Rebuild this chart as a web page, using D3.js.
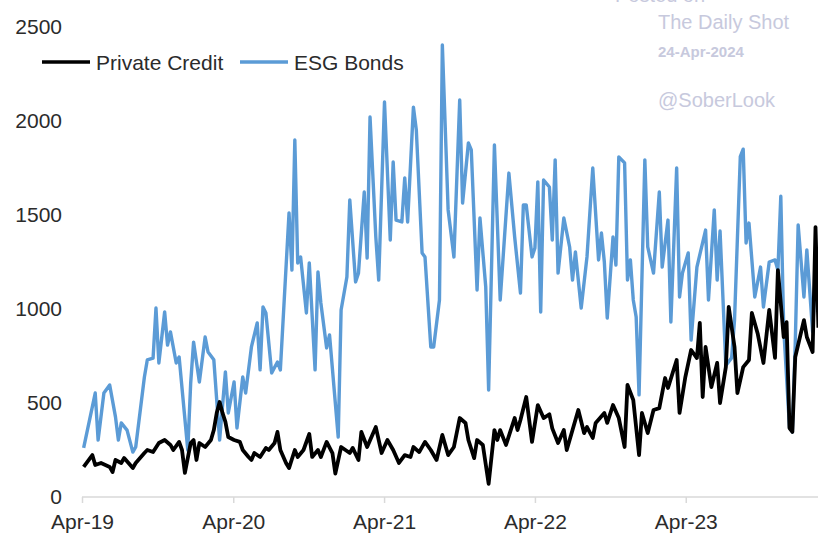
<!DOCTYPE html>
<html>
<head>
<meta charset="utf-8">
<style>
body { margin: 0; background: #fff; }
svg text { font-family: "Liberation Sans", Arial, sans-serif; }
.tick-label { fill: #2b2b2b; font-size: 21px; }
.legend text { fill: #2b2b2b; font-size: 21px; }
.mark { fill: #c7c9dd; }
</style>
</head>
<body>
<svg width="818" height="533"></svg>
<script src="https://d3js.org/d3.v7.min.js"></script>
<script>

// weekly observations, week 0 = first week of April 2019
var esgWeeks = [0,4,5,7,9,11,12,13,15,17,18,21,22,24,25,26,28,29,30,32,33,36,37,38,40,42,43,45,47,49,50,52,53,55,56,58,60,61,62,63,65,67,68,71,72,73,74,75,77,78,80,81,82,84,85,88,89,91,92,94,95,97,98,99,101,102,104,106,107,108,110,111,112,114,115,117,118,120,121,123,124,126,128,130,131,133,134,136,137,139,140,142,144,147,149,151,152,153,155,156,157,158,159,161,162,163,164,166,168,169,170,172,174,176,178,179,180,181,183,184,185,187,188,189,190,191,192,194,195,197,199,200,202,203,205,206,207,209,210,212,215,216,218,219,220,222,224,225,227,228,229,230,232,234,235,237,239,240,241,242,244,245,246,247,249,250,252,253,254];
var esgValues = [261,553,303,553,596,426,303,394,356,239,266,638,729,739,1005,713,984,808,878,713,745,250,606,824,612,851,771,730,303,665,447,612,367,638,553,798,926,676,1011,979,660,718,676,1511,1207,1899,1245,1277,979,1245,676,1197,1032,793,862,319,995,1170,1580,1144,1190,1622,1271,2021,1383,1154,2101,1367,1782,1473,1463,1697,1463,2074,1952,1298,1277,798,798,1048,2404,1527,1277,2112,1564,1883,1846,1101,1484,1117,569,1872,1048,1723,1383,1085,1553,1553,1277,1324,1676,984,1686,1649,1367,1793,1191,1484,1330,1154,1303,1005,1277,1750,1261,1404,1250,952,1383,1234,1809,1777,1154,1261,1048,957,543,1793,1330,1191,1622,1223,1473,931,1750,1064,1191,1298,835,1223,1420,1048,1527,1154,1415,700,740,941,1810,1850,1351,1457,1064,1223,1011,1250,1261,1207,1600,900,372,346,819,1447,1064,1314,880,1207,1277];

var pcWeeks = [0,3,4,6,9,10,11,13,14,17,18,21,22,24,26,28,30,31,33,34,35,37,38,39,40,42,44,45,46,47,48,49,50,52,54,55,57,58,59,61,63,64,66,67,68,70,71,73,74,76,78,79,81,82,84,86,87,89,92,93,95,96,98,101,103,105,107,109,111,113,114,116,118,120,122,124,126,128,130,132,133,135,136,138,140,142,143,144,146,149,150,151,153,155,157,159,161,162,164,166,167,169,171,173,174,176,177,180,181,183,185,187,188,190,192,193,195,197,199,201,202,205,206,208,210,212,213,214,215,217,219,220,222,223,225,226,228,230,231,233,235,237,239,240,242,243,244,245,246,249,250,252,253,254];
var pcValues = [160,223,170,181,160,133,197,181,207,154,181,234,250,239,287,303,277,250,293,250,128,287,303,197,287,266,303,356,447,505,447,400,319,303,293,250,213,197,234,213,261,250,287,346,250,180,154,250,213,250,335,213,250,213,293,234,125,266,234,261,197,346,266,372,234,303,250,181,223,213,266,239,293,250,197,330,223,266,420,394,303,207,303,277,70,356,303,356,277,420,356,410,532,293,489,420,440,365,287,356,250,356,463,340,372,314,394,447,394,489,420,266,596,516,223,447,340,463,473,633,580,729,447,638,782,739,926,532,798,585,713,500,691,1011,798,553,691,729,979,870,713,995,740,1207,851,930,367,346,745,941,851,771,1436,900];

var yTicks = [0, 500, 1000, 1500, 2000, 2500];
var xTickYears = [2019, 2020, 2021, 2022, 2023];

var seriesNames = ["Private Credit", "ESG Bonds"];
var seriesColors = ["#000000", "#5b9bd6"];

var svg = d3.select("svg");
var start = new Date(2019, 3, 5);

var x = d3.scaleTime()
    .domain([new Date(2019, 3, 1), new Date(2024, 3, 1)])
    .range([82, 837]);

var y = d3.scaleLinear()
    .domain([0, 2500])
    .range([497, 27]);

function toPoints(weeks, values) {
  return weeks.map(function(w, i) {
    return { date: d3.timeDay.offset(start, w * 7), value: values[i] };
  });
}

var esg = toPoints(esgWeeks, esgValues);
var pc = toPoints(pcWeeks, pcValues);

// y labels (no axis line)
svg.append("g").selectAll("text")
  .data(yTicks)
  .enter().append("text")
    .attr("class", "tick-label")
    .attr("x", 62)
    .attr("y", function(d) { return y(d); })
    .attr("dy", "0.35em")
    .attr("text-anchor", "end")
    .text(function(d) { return d; });

// x axis
var xTicks = xTickYears.map(function(yr) { return new Date(yr, 3, 1); });
var xAxis = svg.append("g").attr("transform", "translate(0,497)")
  .call(d3.axisBottom(x).tickValues(xTicks).tickSize(6).tickFormat(d3.timeFormat("%b-%y")));
xAxis.select(".domain").attr("d", "M82,0H818").attr("stroke", "#d9d9d9").attr("stroke-width", 1.5);
xAxis.selectAll(".tick line").attr("stroke", "#d9d9d9").attr("stroke-width", 1.5);
xAxis.selectAll(".tick text")
  .attr("class", "tick-label")
  .attr("y", 32)
  .attr("dy", 0)
  .style("font-family", "Liberation Sans, Arial, sans-serif")
  .style("font-size", "21px")
  .attr("fill", "#2b2b2b");

var line = d3.line()
    .x(function(d) { return x(d.date); })
    .y(function(d) { return y(d.value); });

svg.append("clipPath").attr("id", "clip")
  .append("rect").attr("x", 0).attr("y", 0).attr("width", 818).attr("height", 533);

var plot = svg.append("g").attr("clip-path", "url(#clip)");

plot.append("path")
    .datum(esg)
    .attr("fill", "none")
    .attr("stroke", seriesColors[1])
    .attr("stroke-width", 3.4)
    .attr("stroke-linejoin", "round")
    .attr("d", line);

plot.append("path")
    .datum(pc)
    .attr("fill", "none")
    .attr("stroke", seriesColors[0])
    .attr("stroke-width", 3.8)
    .attr("stroke-linejoin", "round")
    .attr("d", line);

// legend
var legend = svg.append("g").attr("class", "legend");
var legendX = [42, 240];
seriesNames.forEach(function(name, i) {
  legend.append("line")
      .attr("x1", legendX[i]).attr("x2", legendX[i] + 48)
      .attr("y1", 62).attr("y2", 62)
      .attr("stroke", seriesColors[i])
      .attr("stroke-width", 3.5);
  legend.append("text")
      .attr("x", legendX[i] + 54)
      .attr("y", 70)
      .text(name);
});

// watermark
svg.append("text").attr("class", "mark").attr("x", 615).attr("y", 2).style("font-size", "20px").text("Posted on");
svg.append("text").attr("class", "mark").attr("x", 658).attr("y", 29).style("font-size", "20px").text("The Daily Shot");
svg.append("text").attr("class", "mark").attr("x", 658).attr("y", 57).style("font-size", "15px").style("font-weight", "bold").text("24-Apr-2024");
svg.append("text").attr("class", "mark").attr("x", 658).attr("y", 107).style("font-size", "20px").text("@SoberLook");

</script>
</body>
</html>
